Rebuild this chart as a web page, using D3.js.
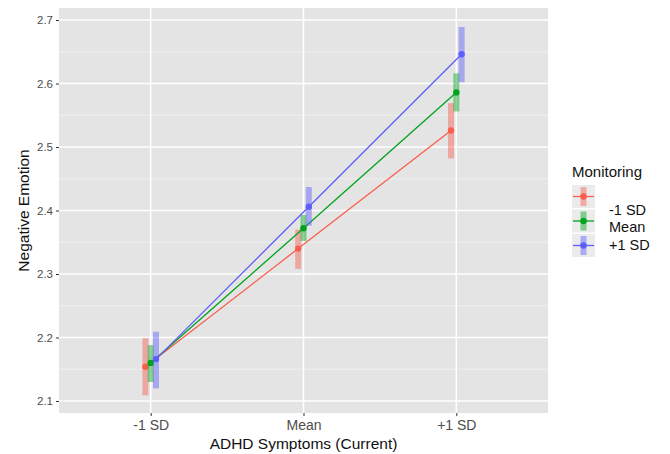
<!DOCTYPE html>
<html><head><meta charset="utf-8">
<script src="https://cdn.jsdelivr.net/npm/d3@7"></script>
<style>body{margin:0;background:#fff}svg{display:block}text{font-family:"Liberation Sans",Arial,sans-serif}</style>
</head><body><svg id="c" width="670" height="454"></svg>
<script>
const categories = ["-1 SD", "Mean", "+1 SD"];
const groups = ["-1 SD", "Mean", "+1 SD"];
const colors = ["#f95e4f", "#00a31c", "#5e5eff"];
const estLow  = [2.154, 2.340, 2.526];
const loLow   = [2.109, 2.308, 2.482];
const hiLow   = [2.199, 2.370, 2.569];
const estMean = [2.160, 2.372, 2.586];
const loMean  = [2.130, 2.352, 2.556];
const hiMean  = [2.188, 2.393, 2.616];
const estHigh = [2.166, 2.406, 2.646];
const loHigh  = [2.120, 2.376, 2.602];
const hiHigh  = [2.209, 2.437, 2.689];
const yTicks = [2.1, 2.2, 2.3, 2.4, 2.5, 2.6, 2.7];
const yMinor = [2.15, 2.25, 2.35, 2.45, 2.55, 2.65];

const series = [
  {g: groups[0], c: colors[0], est: estLow, lo: loLow, hi: hiLow},
  {g: groups[1], c: colors[1], est: estMean, lo: loMean, hi: hiMean},
  {g: groups[2], c: colors[2], est: estHigh, lo: loHigh, hi: hiHigh}
];

const svg = d3.select("#c");
const L = 59, R = 548, T = 8, B = 413;
const x = d3.scalePoint().domain(categories).range([L, R]).padding(0.6);
const dodge = d3.scalePoint().domain(groups).range([-5.3, 5.3]);
const y = d3.scaleLinear().domain([2.1, 2.7]).range([401, 20]);

svg.append("rect").attr("x", L).attr("y", T).attr("width", R - L).attr("height", B - T).attr("fill", "#e4e4e4");
const grid = svg.append("g");
yMinor.forEach(v => grid.append("line").attr("x1", L).attr("x2", R).attr("y1", y(v)).attr("y2", y(v)).attr("stroke", "#f2f2f2").attr("stroke-width", 0.8));
yTicks.forEach(v => grid.append("line").attr("x1", L).attr("x2", R).attr("y1", y(v)).attr("y2", y(v)).attr("stroke", "#fff").attr("stroke-width", 1.5));
categories.forEach(c => grid.append("line").attr("y1", T).attr("y2", B).attr("x1", x(c)).attr("x2", x(c)).attr("stroke", "#fff").attr("stroke-width", 1.5));

// axes
const yAxis = svg.append("g").attr("transform", `translate(${L},0)`)
  .call(d3.axisLeft(y).tickValues(yTicks).tickFormat(d3.format(".1f")).tickSize(3).tickPadding(3));
yAxis.select(".domain").remove();
yAxis.selectAll("line").attr("stroke", "#333");
yAxis.selectAll("text").attr("fill", "#4d4d4d").style("font-size", "11.5px");
const xAxis = svg.append("g").attr("transform", `translate(0,${B})`)
  .call(d3.axisBottom(x).tickSize(3).tickPadding(3));
xAxis.select(".domain").remove();
xAxis.selectAll("line").attr("stroke", "#333");
xAxis.selectAll("text").attr("fill", "#4d4d4d").style("font-size", "14px").attr("dy", null).attr("y", 17);

svg.append("text").attr("x", x("Mean")).attr("y", 449).attr("text-anchor", "middle").style("font-size", "15.5px").attr("fill", "#111").text("ADHD Symptoms (Current)");
svg.append("text").attr("transform", `translate(29,${(T + B) / 2}) rotate(-90)`).attr("text-anchor", "middle").style("font-size", "15.5px").attr("fill", "#111").text("Negative Emotion");

// marks
series.forEach(s => {
  const g = svg.append("g");
  const px = i => x(categories[i]) + dodge(s.g);
  categories.forEach((c, i) => {
    g.append("rect").attr("x", px(i) - 3).attr("width", 6)
      .attr("y", y(s.hi[i])).attr("height", y(s.lo[i]) - y(s.hi[i]))
      .attr("fill", s.c).attr("opacity", 0.45);
  });
  g.append("path").datum(s.est)
    .attr("d", d3.line().x((d, i) => px(i)).y(d => y(d)))
    .attr("fill", "none").attr("stroke", s.c).attr("stroke-width", 1.3);
  g.selectAll("circle").data(s.est).join("circle")
    .attr("cx", (d, i) => px(i)).attr("cy", d => y(d)).attr("r", 3.2).attr("fill", s.c);
});

// legend
const lg = svg.append("g");
lg.append("text").attr("x", 572).attr("y", 177).style("font-size", "15px").attr("fill", "#111").text("Monitoring");
series.forEach((s, i) => {
  const ky = 185 + i * 24.5;
  const k = lg.append("g").attr("transform", `translate(572,${ky})`);
  k.append("rect").attr("width", 23).attr("height", 23).attr("fill", "#ebebeb");
  k.append("rect").attr("x", 8.5).attr("y", 2).attr("width", 6).attr("height", 19).attr("fill", s.c).attr("opacity", 0.45);
  k.append("line").attr("x1", 1).attr("x2", 22).attr("y1", 11.5).attr("y2", 11.5).attr("stroke", s.c).attr("stroke-width", 1.3);
  k.append("circle").attr("cx", 11.5).attr("cy", 11.5).attr("r", 3.2).attr("fill", s.c);
});
const labY = [215, 232, 250];
groups.forEach((g, i) => lg.append("text").attr("x", 609).attr("y", labY[i]).style("font-size", "14.5px").attr("fill", "#111").text(g));
</script></body></html>
